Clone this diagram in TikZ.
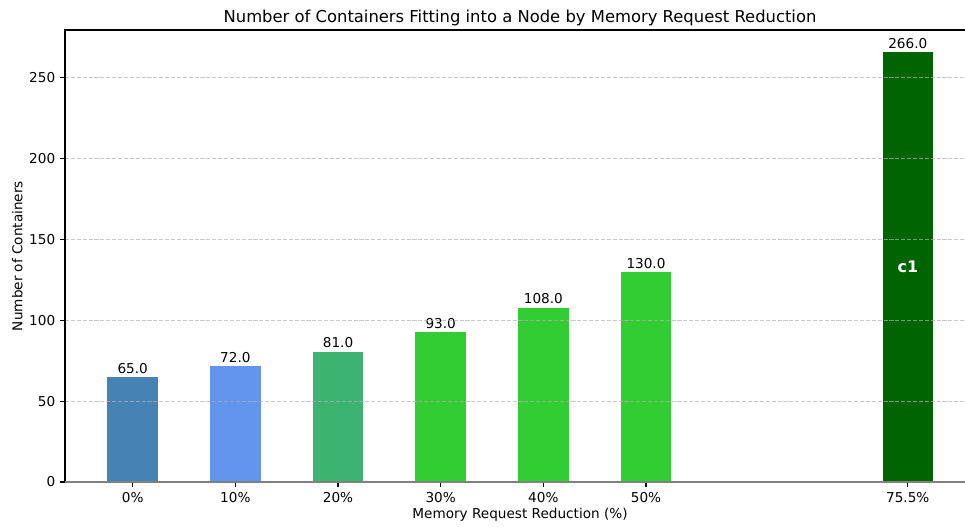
\documentclass[tikz,border=0pt]{standalone}
\usepackage{fontspec}
\setmainfont{DejaVu Sans}
\definecolor{steelblue}{HTML}{4682B4}
\definecolor{cornflower}{HTML}{6495ED}
\definecolor{seagreen}{HTML}{3CB371}
\definecolor{limegreen}{HTML}{32CD32}
\definecolor{darkgreen}{HTML}{006400}
\definecolor{gridgray}{HTML}{B0B0B0}
\begin{document}
\begin{tikzpicture}[x=0.72pt,y=-0.72pt,
  lbl/.style={font=\fontsize{9.8}{11}\selectfont, inner sep=0pt},
  bigtitle/.style={font=\fontsize{11.8}{13}\selectfont, inner sep=0pt},
  barbox/.style={draw=white, line width=0.6pt},
  gridline/.style={draw=gridgray, draw opacity=0.7, line width=0.8pt, dash pattern=on 2.96pt off 1.28pt},
  spine/.style={draw=black, line width=0.8pt},
  tick/.style={draw=black, line width=0.8pt}]
\useasboundingbox (0,0) rectangle (965,526);

% bars with value labels
\foreach \p/\v/\c [count=\i] in {0/65/steelblue, 10/72/cornflower, 20/81/seagreen,
    30/93/limegreen, 40/108/limegreen, 50/130/limegreen, 75.5/266/darkgreen} {
  \pgfmathsetmacro\xc{132.7+10.266*\p}
  \pgfmathsetmacro\yt{482-1.618*\v}
  \draw[barbox, fill=\c] (\xc-25.8,482) rectangle (\xc+25.8,\yt);
  \node[lbl, anchor=base] (val\i) at (\xc,\yt-3.5) {\v.0};
  % x tick and label
  \draw[tick] (\xc,482) -- (\xc,487);
  \node[lbl, anchor=base] (xt\i) at (\xc,502.5) {\p\%};
}

% horizontal grid
\foreach \t in {50,100,150,200,250} {
  \pgfmathsetmacro\yy{482-1.618*\t}
  \draw[gridline] (65,\yy) -- (965,\yy);
}

% bar annotation
\node[font=\fontsize{11.5}{13}\selectfont\bfseries, text=white, inner sep=0pt, anchor=base] (c1) at (908,272.3) {c1};

% spines
\draw[spine] (65,482) -- (65,30) -- (965,30);
\draw[draw=gray, line width=1.3pt] (65,482) -- (965,482);

% y ticks
\foreach \t in {0,50,100,150,200,250} {
  \pgfmathsetmacro\yy{482-1.618*\t}
  \draw[tick] (60.1,\yy) -- (65,\yy);
  \node[lbl, anchor=base east] (yt\t) at (55.5,\yy+4.9) {\t};
}

% titles
\node[bigtitle, anchor=base] (title) at (520,22) {Number of Containers Fitting into a Node by Memory Request Reduction};
\node[lbl, anchor=base] (xlab) at (520,518) {Memory Request Reduction (\%)};
\node[lbl, anchor=base, rotate=90] (ylab) at (22.3,256) {Number of Containers};
\end{tikzpicture}
\end{document}
